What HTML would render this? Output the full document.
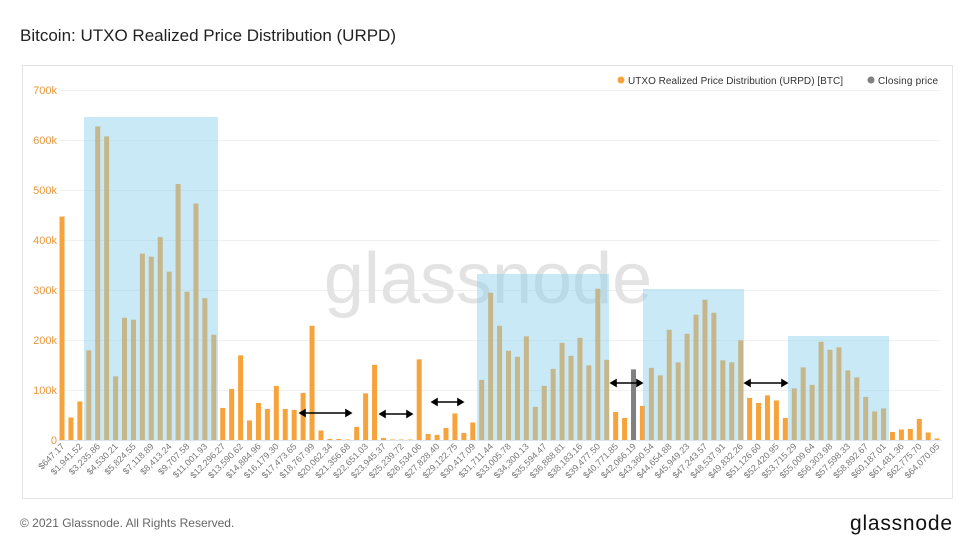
<!DOCTYPE html>
<html><head><meta charset="utf-8"><style>
body{margin:0;background:#fff;width:974px;height:550px;overflow:hidden;font-family:"Liberation Sans",sans-serif}
</style></head><body>
<svg id="s" width="974" height="550" xmlns="http://www.w3.org/2000/svg" font-family="Liberation Sans, sans-serif">
<text x="20" y="41" font-size="17" fill="#222">Bitcoin: UTXO Realized Price Distribution (URPD)</text>
<rect x="22.5" y="65.5" width="930" height="433" fill="#fff" stroke="#e4e4e4"/>
<g stroke="#f0f0f0" stroke-width="1">
<line x1="60" x2="940" y1="90.5" y2="90.5"/><line x1="60" x2="940" y1="140.5" y2="140.5"/><line x1="60" x2="940" y1="190.5" y2="190.5"/><line x1="60" x2="940" y1="240.5" y2="240.5"/><line x1="60" x2="940" y1="290.5" y2="290.5"/><line x1="60" x2="940" y1="340.5" y2="340.5"/><line x1="60" x2="940" y1="390.5" y2="390.5"/>
</g>
<g font-size="11" fill="#e8973a" text-anchor="end">
<text x="57" y="94">700k</text><text x="57" y="144">600k</text><text x="57" y="194">500k</text><text x="57" y="244">400k</text><text x="57" y="294">300k</text><text x="57" y="344">200k</text><text x="57" y="394">100k</text><text x="57" y="444">0</text>
</g>
<text x="488" y="303" font-size="72" fill="#e3e3e3" text-anchor="middle">glassnode</text>
<g id="bars"></g>
<line x1="58" x2="942" y1="440.5" y2="440.5" stroke="#dfe3ea"/>
<g fill="rgba(135,206,235,0.45)">
<rect x="84" y="117" width="134" height="323"/>
<rect x="477" y="274" width="132" height="166"/>
<rect x="643" y="289" width="101" height="151"/>
<rect x="788" y="336" width="101" height="104"/>
</g>
<g stroke="#000" stroke-width="1.6" fill="#000">
<line x1="302" x2="349" y1="413" y2="413"/><path d="M300 413l5-3v6zM351 413l-5-3v6z"/>
<line x1="382" x2="410" y1="414" y2="414"/><path d="M380 414l5-3v6zM412 414l-5-3v6z"/>
<line x1="434" x2="461" y1="402" y2="402"/><path d="M432 402l5-3v6zM463 402l-5-3v6z"/>
<line x1="613" x2="640" y1="383" y2="383"/><path d="M611 383l5-3v6zM642 383l-5-3v6z"/>
<line x1="747" x2="785" y1="383" y2="383"/><path d="M745 383l5-3v6zM787 383l-5-3v6z"/>
</g>
<circle cx="621" cy="80" r="3.5" fill="#f7a33c"/>
<text x="628" y="84" font-size="10" textLength="215" fill="#333">UTXO Realized Price Distribution (URPD) [BTC]</text>
<circle cx="871" cy="80" r="3.5" fill="#808080"/>
<text x="878" y="84" font-size="10" textLength="60" fill="#333">Closing price</text>
<g font-size="9" fill="#777" text-anchor="end">
<text transform="translate(65,447) rotate(-45)">$647.17</text>
<text transform="translate(82.86,447) rotate(-45)">$1,941.52</text>
<text transform="translate(100.72,447) rotate(-45)">$3,235.86</text>
<text transform="translate(118.58,447) rotate(-45)">$4,530.21</text>
<text transform="translate(136.44,447) rotate(-45)">$5,824.55</text>
<text transform="translate(154.3,447) rotate(-45)">$7,118.89</text>
<text transform="translate(172.16,447) rotate(-45)">$8,413.24</text>
<text transform="translate(190.02,447) rotate(-45)">$9,707.58</text>
<text transform="translate(207.88,447) rotate(-45)">$11,001.93</text>
<text transform="translate(225.74,447) rotate(-45)">$12,296.27</text>
<text transform="translate(243.6,447) rotate(-45)">$13,590.62</text>
<text transform="translate(261.46,447) rotate(-45)">$14,884.96</text>
<text transform="translate(279.32,447) rotate(-45)">$16,179.30</text>
<text transform="translate(297.18,447) rotate(-45)">$17,473.65</text>
<text transform="translate(315.04,447) rotate(-45)">$18,767.99</text>
<text transform="translate(332.9,447) rotate(-45)">$20,062.34</text>
<text transform="translate(350.76,447) rotate(-45)">$21,356.68</text>
<text transform="translate(368.62,447) rotate(-45)">$22,651.03</text>
<text transform="translate(386.48,447) rotate(-45)">$23,945.37</text>
<text transform="translate(404.34,447) rotate(-45)">$25,239.72</text>
<text transform="translate(422.2,447) rotate(-45)">$26,534.06</text>
<text transform="translate(440.06,447) rotate(-45)">$27,828.40</text>
<text transform="translate(457.92,447) rotate(-45)">$29,122.75</text>
<text transform="translate(475.78,447) rotate(-45)">$30,417.09</text>
<text transform="translate(493.64,447) rotate(-45)">$31,711.44</text>
<text transform="translate(511.5,447) rotate(-45)">$33,005.78</text>
<text transform="translate(529.36,447) rotate(-45)">$34,300.13</text>
<text transform="translate(547.22,447) rotate(-45)">$35,594.47</text>
<text transform="translate(565.08,447) rotate(-45)">$36,888.81</text>
<text transform="translate(582.94,447) rotate(-45)">$38,183.16</text>
<text transform="translate(600.8,447) rotate(-45)">$39,477.50</text>
<text transform="translate(618.66,447) rotate(-45)">$40,771.85</text>
<text transform="translate(636.52,447) rotate(-45)">$42,066.19</text>
<text transform="translate(654.38,447) rotate(-45)">$43,360.54</text>
<text transform="translate(672.24,447) rotate(-45)">$44,654.88</text>
<text transform="translate(690.1,447) rotate(-45)">$45,949.23</text>
<text transform="translate(707.96,447) rotate(-45)">$47,243.57</text>
<text transform="translate(725.82,447) rotate(-45)">$48,537.91</text>
<text transform="translate(743.68,447) rotate(-45)">$49,832.26</text>
<text transform="translate(761.54,447) rotate(-45)">$51,126.60</text>
<text transform="translate(779.4,447) rotate(-45)">$52,420.95</text>
<text transform="translate(797.26,447) rotate(-45)">$53,715.29</text>
<text transform="translate(815.12,447) rotate(-45)">$55,009.64</text>
<text transform="translate(832.98,447) rotate(-45)">$56,303.98</text>
<text transform="translate(850.84,447) rotate(-45)">$57,598.33</text>
<text transform="translate(868.7,447) rotate(-45)">$58,892.67</text>
<text transform="translate(886.56,447) rotate(-45)">$60,187.01</text>
<text transform="translate(904.42,447) rotate(-45)">$61,481.36</text>
<text transform="translate(922.28,447) rotate(-45)">$62,775.70</text>
<text transform="translate(940.14,447) rotate(-45)">$64,070.05</text>
</g>
<text x="20" y="527" font-size="12" fill="#666">© 2021 Glassnode. All Rights Reserved.</text>
<text x="952" y="530" font-size="21" textLength="102" fill="#111" text-anchor="end">glassnode</text>
</svg>
<script>
var v=[447,46,78,180,627,607,128,245,241,373,367,406,337,512,297,473,284,211,65,103,170,40,75,63,109,63,61,95,229,20,3,3,1,27,94,151,5,1,1,1,162,13,11,25,54,15,36,121,295,229,179,167,208,67,109,143,195,169,205,150,303,161,57,45,142,69,145,130,221,156,213,251,281,255,160,156,200,85,75,90,80,45,104,146,111,197,181,186,140,126,87,58,64,17,22,23,43,16,4];
var g=document.getElementById('bars'),h='';
for(var i=0;i<v.length;i++){var hh=Math.max(v[i]*0.501,1);h+='<rect x="'+(59.5+8.93*i).toFixed(2)+'" y="'+(440.5-hh).toFixed(2)+'" width="5" height="'+hh.toFixed(2)+'" fill="'+(i==64?'#808080':'#f7a33c')+'"/>';}
g.innerHTML=h;
</script>
</body></html>
